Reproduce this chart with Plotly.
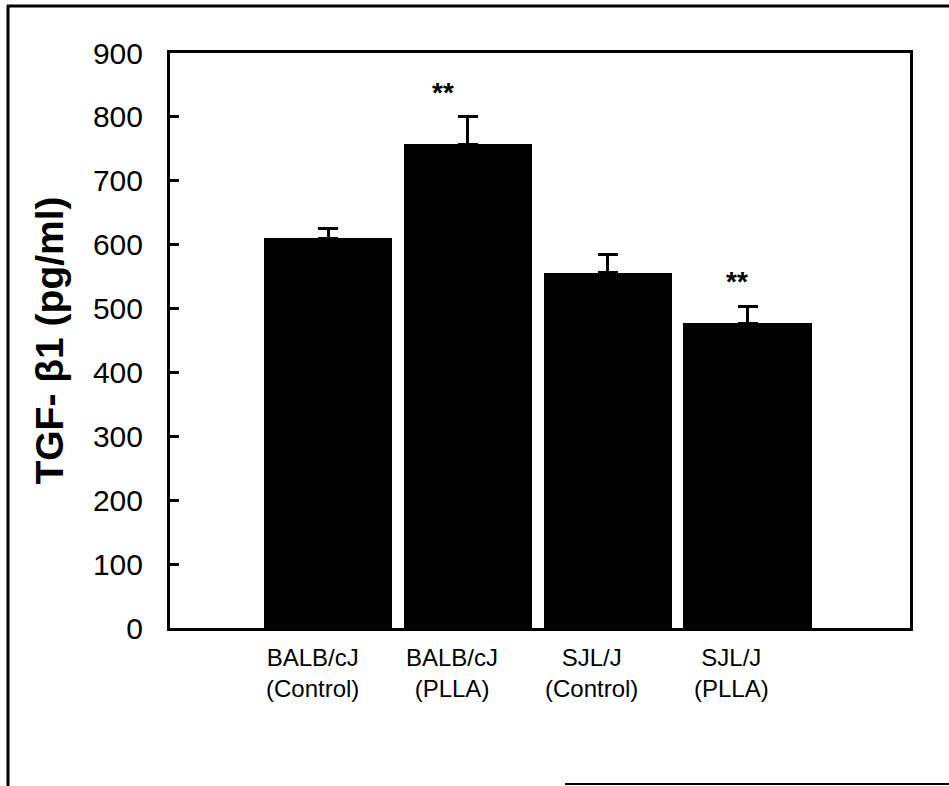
import plotly.graph_objects as go

# ---- data ----
categories = ["BALB/cJ<br>(Control)", "BALB/cJ<br>(PLLA)", "SJL/J<br>(Control)", "SJL/J<br>(PLLA)"]
values = [610, 757, 556, 477]
errors = [16, 43, 29, 27]
significance = ["", "**", "", "**"]
y_ticks = [0, 100, 200, 300, 400, 500, 600, 700, 800, 900]

# ---- layout constants ----
W, H = 949, 786
ML, MR, MT, MB = 170, 39, 53, 158
PW, PH = W - ML - MR, H - MT - MB

def px_x(px):
    return (px - ML) / PW

def px_y(py):
    return (H - MB - py) / PH

xpos = list(range(len(categories)))

fig = go.Figure()
fig.add_trace(go.Bar(
    x=xpos, y=values, width=0.92,
    marker=dict(color="black", line=dict(width=0)),
    error_y=dict(type="data", array=errors, arrayminus=[0] * len(errors),
                 symmetric=False, color="black", thickness=3, width=10),
    showlegend=False, hoverinfo="skip",
))

font_main = "Liberation Sans, Arial, Helvetica, sans-serif"

annotations = []
star_shift = [0, -25, 0, -11]
for i, (v, e, s) in enumerate(zip(values, errors, significance)):
    if s:
        annotations.append(dict(
            x=i, y=v + e, xref="x", yref="y", text="<b>" + s + "</b>",
            showarrow=False, yanchor="bottom", yshift=7, xshift=star_shift[i],
            font=dict(family=font_main, size=28, color="black"),
        ))
for i, c in enumerate(categories):
    annotations.append(dict(
        x=i, y=0, xref="x", yref="y", text=c, showarrow=False,
        yanchor="top", yshift=-14, xshift=-16, align="center",
        font=dict(family=font_main, size=24, color="black"),
    ))

shapes = [
    dict(type="line", xref="paper", yref="paper", x0=px_x(8), x1=px_x(8),
         y0=px_y(5), y1=px_y(786), line=dict(color="black", width=3)),
    dict(type="line", xref="paper", yref="paper", x0=px_x(7), x1=px_x(949),
         y0=px_y(6), y1=px_y(6), line=dict(color="black", width=3)),
    dict(type="line", xref="paper", yref="paper", x0=px_x(565), x1=px_x(949),
         y0=px_y(784), y1=px_y(784), line=dict(color="black", width=2)),
]

fig.update_layout(
    width=W, height=H,
    margin=dict(l=ML, r=MR, t=MT, b=MB, pad=0),
    paper_bgcolor="white", plot_bgcolor="white",
    font=dict(family=font_main, color="black"),
    annotations=annotations, shapes=shapes,
    bargap=0,
)
fig.update_xaxes(
    range=[-1.13, 4.16], showticklabels=False, ticks="",
    showline=True, linecolor="black", linewidth=3, mirror=True,
    showgrid=False, zeroline=False, fixedrange=True,
)
fig.update_yaxes(
    range=[0, 900], tickvals=y_ticks, ticktext=[str(t) for t in y_ticks],
    ticks="inside", ticklen=9, tickwidth=3, tickcolor="black",
    ticklabelstandoff=18,
    tickfont=dict(family=font_main, size=30, color="black"),
    showline=True, linecolor="black", linewidth=3, mirror=True,
    showgrid=False, zeroline=False, fixedrange=True,
    title=dict(text="<b>TGF- β1 (pg/ml)</b>", standoff=18,
               font=dict(family=font_main, size=39, color="black")),
)

fig.write_html("out.html", config={"displayModeBar": False},
               post_script="document.body.style.margin='0px';")
